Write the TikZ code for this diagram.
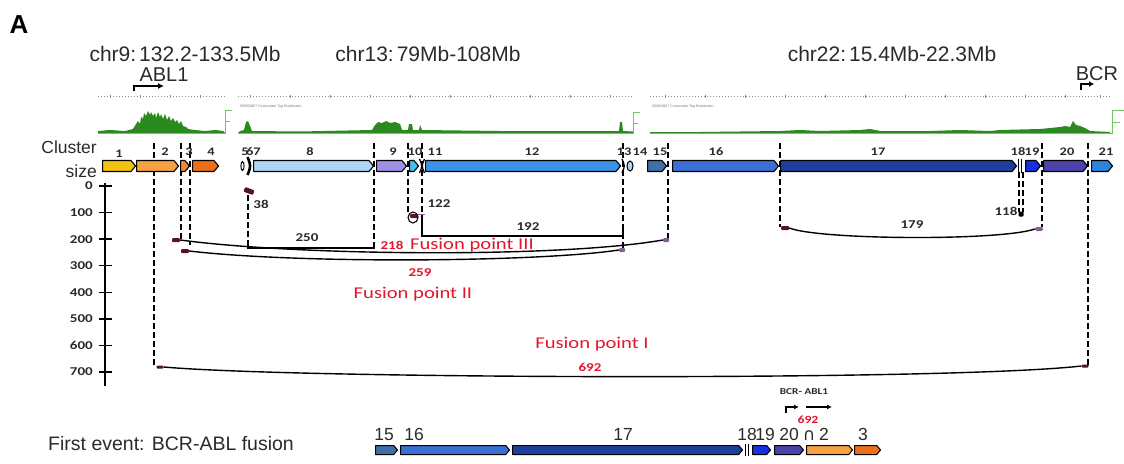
\documentclass[tikz,border=0pt]{standalone}
\usepackage{fontspec}
\setmainfont{Liberation Sans}
\newfontfamily\calw[FakeStretch=1.25]{Carlito}
\newfontfamily\djv{DejaVu Sans}
\usetikzlibrary{shapes.symbols,arrows.meta}
\definecolor{cYel}{HTML}{F2C40F}
\definecolor{cOrL}{HTML}{F5A243}
\definecolor{cOrM}{HTML}{EF8A3A}
\definecolor{cOrD}{HTML}{EC6F1C}
\definecolor{cSky}{HTML}{ABD7F5}
\definecolor{cLav}{HTML}{9D8FE3}
\definecolor{cCya}{HTML}{3FC1EE}
\definecolor{cBlu}{HTML}{3D92E6}
\definecolor{cStl}{HTML}{3F6FA6}
\definecolor{cBl2}{HTML}{3C6FD4}
\definecolor{cNav}{HTML}{1E3E9E}
\definecolor{cBri}{HTML}{1730DD}
\definecolor{cSla}{HTML}{4B43AA}
\definecolor{cAzu}{HTML}{2F83DA}
\definecolor{cRed}{HTML}{E3162B}
\definecolor{cMar}{HTML}{5A1030}
\definecolor{cPur}{HTML}{8A5A9A}
\definecolor{gDark}{HTML}{2A8A1E}
\definecolor{gLite}{HTML}{74C466}
\definecolor{cTxt}{HTML}{2A2A2A}
\tikzset{
  gene/.style={signal, signal to=east, signal pointer angle=100, draw=black,
    line width=1.1pt, line join=round, inner sep=0pt, minimum height=11pt, anchor=west},
  bgene/.style={gene, minimum height=9pt, line width=1pt},
  dsh/.style={dash pattern=on 5.5pt off 3.5pt, line width=1.3pt},
  title/.style={font=\fontsize{21}{21}\selectfont, text=cTxt, inner sep=0pt, anchor=base},
  big/.style={font=\fontsize{19.5}{20}\selectfont, text=cTxt, inner sep=0pt, anchor=base},
  clab/.style={font=\calw\bfseries\fontsize{11.5}{11.5}\selectfont, text=cTxt, inner sep=0pt},
  nlab/.style={font=\calw\bfseries\fontsize{12}{12}\selectfont, text=cTxt, inner sep=0pt},
  rnum/.style={font=\calw\bfseries\fontsize{12}{12}\selectfont, text=cRed, inner sep=0pt},
  fus/.style={font=\calw\fontsize{16.5}{17}\selectfont, text=cRed, inner sep=0pt},
  axl/.style={font=\calw\bfseries\fontsize{12}{12}\selectfont, text=cTxt, inner sep=0pt, anchor=east},
  blab/.style={font=\fontsize{17.5}{18}\selectfont, text=cTxt, inner sep=0pt, anchor=base},
  mk/.style={fill=#1, draw=none, minimum width=8pt, minimum height=4pt, inner sep=0pt, rounded corners=1pt},
  tiny/.style={font=\fontsize{3.5}{4}\selectfont, text=black!55, inner sep=0pt, anchor=west},
  arr/.style={line width=1.3pt, -{Latex[length=6pt,width=6pt]}},
  arc/.style={line width=1.4pt},
}
\newcommand\gb[6]{\node[#6, fill=#5, minimum width={#3-#2}] (#1) at (#2,#4) {};}
\begin{document}
\begin{tikzpicture}[x=1pt,y=-1pt]
\useasboundingbox (0,0) rectangle (1124,463);
% panel letter
\node[font=\bfseries\fontsize{26}{26}\selectfont, inner sep=0pt, anchor=base] (A) at (19,33) {A};
% titles
\node[title] (t9) at (185,61) {chr9:\hspace{3pt}132.2-133.5Mb};
\node[title] (t13) at (428,61) {chr13:\hspace{3pt}79Mb-108Mb};
\node[title] (t22) at (892,61) {chr22:\hspace{3pt}15.4Mb-22.3Mb};
\node[title, font=\fontsize{20}{20}\selectfont] (abl) at (164,81) {ABL1};
\node[title, font=\fontsize{20}{20}\selectfont] (bcr) at (1097,80) {BCR};
\coordinate (ablS) at (134,91);
\coordinate (bcrS) at (1081,90);
\draw[arr] (ablS) -- ++(0,-5) -- ++(30,0);
\draw[line width=1.3pt, -{Latex[length=5pt,width=6pt]}] (bcrS) -- ++(0,-6) -- ++(13,0);
% coverage tracks
\foreach \a/\b in {98/225,238/633,650/1110}{
  \draw[black!45, dash pattern=on 1.2pt off 1.8pt, line width=0.6pt] (\a,96) -- (\b,96);
}
\foreach \x in {110,140,170,200,250,290,330,370,410,450,490,530,570,610,665,705,745,785,825,865,905,945,985,1025,1065,1100}{
  \draw[black!45, line width=0.5pt] (\x,94.5) -- (\x,97.5);
}
\node[tiny] (ct2) at (240,107) {DBR00067 Concordant Tag Distribution};
\node[tiny] (ct3) at (652,107) {DBR00067 Concordant Tag Distribution};
\fill[gDark] (98,133) -- (98,131) -- (110,130) -- (125,131) -- (133,129) -- (136,124) -- (138,121) -- (140,124) -- (141,117) -- (143,119) -- (144,113) -- (146,116) -- (148,111) -- (150,115) -- (151,112) -- (153,116) -- (155,113) -- (156,118) -- (158,112) -- (160,117) -- (161,114) -- (163,119) -- (165,114) -- (167,120) -- (169,116) -- (171,121) -- (173,118) -- (175,122) -- (177,120) -- (179,124) -- (181,121) -- (183,126) -- (186,127) -- (188,129) -- (195,130) -- (205,131) -- (215,130) -- (223,131) -- (225,133) -- cycle;
\fill[gDark] (238,133) -- (240,131) -- (244,130) -- (246,122) -- (248,121) -- (250,126) -- (252,131) -- (300,131.5) -- (372,130) -- (375,125) -- (378,122) -- (382,123) -- (386,121) -- (390,123) -- (395,122) -- (400,124) -- (402,130) -- (408,130) -- (409,124) -- (412,124) -- (413,130) -- (419,130) -- (420,125) -- (422,130) -- (500,131) -- (619,131) -- (620,122) -- (622,122) -- (623,131) -- (633,131.5) -- (633,133) -- cycle;
\fill[gDark] (650,133) -- (650,132) -- (700,132) -- (780,131) -- (800,130) -- (820,131) -- (860,130) -- (870,129) -- (880,131) -- (930,131) -- (960,130) -- (990,131) -- (1000,130) -- (1040,129) -- (1050,128) -- (1060,127) -- (1065,126) -- (1070,127) -- (1073,121) -- (1076,125) -- (1080,126) -- (1085,128) -- (1090,131) -- (1110,132) -- (1110,133) -- cycle;
\draw[gLite, line width=0.8pt] (98,133) -- (225,133) -- (225,110) -- (232,110) (225,121) -- (230,121);
\draw[gLite, line width=0.8pt] (238,133) -- (633,133) -- (633,112) -- (640,112) (633,123) -- (638,123);
\draw[gLite, line width=0.8pt] (650,133) -- (1112,133) -- (1112,110) -- (1124,110) (1112,122) -- (1120,122);
% cluster header
\node[big, anchor=base east, font=\fontsize{17.5}{18}\selectfont] (clu) at (97,153) {Cluster};
\node[big, anchor=base east, font=\fontsize{17.5}{18}\selectfont] (siz) at (97,177) {size};
% dashed guide lines
\foreach \x/\t/\b in {154/143/366,181/143/240,190/143/245,248/195/246,374/143/246,408/143/212,422/143/215,623/143/248,668/143/239,780/143/227,1019/172/212,1023/172/212,1042/143/227,1088/143/365}{
  \draw[dsh] (\x,\t) -- (\x,\b);
}
% cluster blocks
\gb{g1}{102}{135}{166}{cYel}{gene}
\gb{g2}{136}{178}{166}{cOrL}{gene}
\gb{g3}{180}{189}{166}{cOrM}{gene}
\gb{g4}{192}{218}{166}{cOrD}{gene}
\gb{g8}{253}{373}{166}{cSky}{gene}
\gb{g9}{376}{406}{166}{cLav}{gene}
\gb{g10}{409}{418}{166}{cCya}{gene}
\gb{g12}{425}{620}{166}{cBlu}{gene}
\gb{g15}{647}{666}{166}{cStl}{gene}
\gb{g16}{672}{778}{166}{cBl2}{gene}
\gb{g17}{780}{1016}{166}{cNav}{gene}
\gb{g19}{1025}{1040}{166}{cBri}{gene}
\gb{g20}{1043}{1087}{166}{cSla}{gene}
\gb{g21}{1091}{1112}{166}{cAzu}{gene}
% tiny clusters
\draw[line width=1pt] (242.5,166) ellipse (1.6 and 4.5);
\draw[line width=2.6pt] (247.5,157) .. controls (251,166) .. (247.5,175);
\draw[line width=1.3pt] (419.5,159) .. controls (422.5,166) .. (419.5,173);
\draw[line width=1.3pt] (424.5,159) .. controls (421.5,166) .. (424.5,173);
\draw[line width=1.3pt] (622,159) .. controls (625,166) .. (622,173);
\draw[line width=1pt, fill=cSky] (630,166) ellipse (3 and 5);
\draw[line width=1.5pt] (1018.5,159) -- (1018.5,173) (1021.5,159) -- (1021.5,173);
% cluster labels
\node[clab] (l1) at (119,154) {1};
\node[clab] (l2) at (165,152) {2};
\node[clab] (l3) at (189,152) {3};
\node[clab] (l4) at (211,152) {4};
\node[clab] (l567) at (251,152) {5\kern-2.5pt67};
\node[clab] (l8) at (310,152) {8};
\node[clab] (l9) at (393,152) {9};
\node[clab] (l10) at (415,152) {10};
\node[clab] (l11) at (435,152) {11};
\node[clab] (l12) at (532,152) {12};
\node[clab] (l13) at (624,152) {13};
\node[clab] (l14) at (640,152) {14};
\node[clab] (l15) at (660,152) {15};
\node[clab] (l16) at (716,152) {16};
\node[clab] (l17) at (878,152) {17};
\node[clab] (l18) at (1018,152) {18};
\node[clab] (l19) at (1032,152) {19};
\node[clab] (l20) at (1067,152) {20};
\node[clab] (l21) at (1106,152) {21};
% y axis
\draw[line width=1.6pt] (105,183) -- (105,386);
\foreach \k/\lab in {0/0,1/100,2/200,3/300,4/400,5/500,6/600,7/700}{
  \pgfmathsetmacro\yy{186+26.57*\k}
  \draw[line width=1.4pt] (99,\yy) -- (112,\yy);
  \node[axl] (yl\k) at (93,\yy) {\lab};
}
% markers
\node[mk=cMar] (mA) at (176,240) {};
\node[mk=cMar] (mB) at (185,251) {};
\node[mk=cMar, minimum width=10pt, minimum height=5pt, rotate=-20] (m38) at (249,191) {};
\node[mk=cMar] (m122) at (414,216) {};
\node[mk=cMar] (m179a) at (785,228) {};
\node[mk=cPur, rounded corners=2pt] (m179b) at (1039,229) {};
\node[mk=cPur, minimum width=6pt] (mII) at (622,250) {};
\node[mk=cPur, minimum width=6pt] (mIII) at (666,240) {};
\node[mk=black, minimum width=5pt, minimum height=5pt] (m118) at (1021,214) {};
\node[mk=cMar, minimum width=7pt, minimum height=3pt] (mIa) at (160,367) {};
\node[mk=cMar, minimum width=7pt, minimum height=3pt] (mIb) at (1085,366) {};
% arcs and brackets
\draw[arc] (mA.east) .. controls (300,256) and (560,258) .. (mIII.west);
\draw[arc] (mB.east) .. controls (300,264) and (540,262) .. (mII.west);
\draw[arc] (mIa.east) .. controls (300,379) and (950,381) .. (mIb.west);
\draw[arc] (m179a.east) .. controls (820,240) and (1000,241) .. (m179b.west);
\draw[arc] (248,244) -- (248,248) -- (374,248) -- (374,243);
\draw[arc] (422,215) -- (422,236) -- (623,236) -- (623,228);
\draw[line width=1.1pt] (413,217.5) ellipse (5 and 5.5);
\draw[line width=1pt, cPur] (418,214) -- (425,214);
% numbers
\node[nlab] (n38) at (261,204) {38};
\node[nlab] (n250) at (307,238) {250};
\node[nlab] (n122) at (439,204) {122};
\node[nlab] (n192) at (528,227) {192};
\node[nlab] (n179) at (912,225) {179};
\node[nlab] (n118) at (1006,211) {118};
\node[rnum] (n218) at (392,245) {218};
\node[rnum] (n259) at (420,273) {259};
\node[rnum] (n692) at (590,367) {692};
\node[fus] (f3) at (472,245) {Fusion point III};
\node[fus] (f2) at (413,294) {Fusion point II};
\node[fus] (f1) at (592,344) {Fusion point I};
% first event
\node[big, anchor=base west] (fe) at (48,450) {First event: BCR-ABL fusion};
\gb{b15}{375}{397}{450}{cStl}{bgene}
\gb{b16}{400}{509}{450}{cBl2}{bgene}
\gb{b17}{512}{742}{450}{cNav}{bgene}
\draw[line width=1.2pt] (745.5,444) -- (745.5,456) (748.5,444) -- (748.5,456);
\gb{b19}{752}{770}{450}{cBri}{bgene}
\gb{b20}{774}{803}{450}{cSla}{bgene}
\gb{b2}{806}{852}{450}{cOrL}{bgene}
\gb{b3}{854}{880}{450}{cOrD}{bgene}
\node[blab] (bl15) at (384,440) {15};
\node[blab] (bl16) at (414,440) {16};
\node[blab] (bl17) at (623,440) {17};
\node[blab] (bl18) at (747,440) {18};
\node[blab] (bl19) at (765,440) {19};
\node[blab] (bl20) at (789,440) {20};
\node[blab, font=\djv\fontsize{17}{17}\selectfont] (cap) at (809,440) {∩};
\node[blab] (bl2) at (824,440) {2};
\node[blab] (bl3) at (863,440) {3};
\node[nlab, font=\calw\bfseries\fontsize{9}{9}\selectfont] (ba) at (804,392) {BCR- ABL1};
\coordinate (baS) at (786,413);
\coordinate (baL) at (806,407);
\coordinate (baR) at (832,407);
\draw[line width=1.2pt, -{Latex[length=5pt,width=5pt]}] (baS) -- ++(0,-6) -- ++(13,0);
\draw[line width=1.2pt, -{Latex[length=5pt,width=5pt]}] (baL) -- (baR);
\node[rnum, font=\calw\bfseries\fontsize{11}{11}\selectfont] (b692) at (808,420) {692};
\end{tikzpicture}
\end{document}
